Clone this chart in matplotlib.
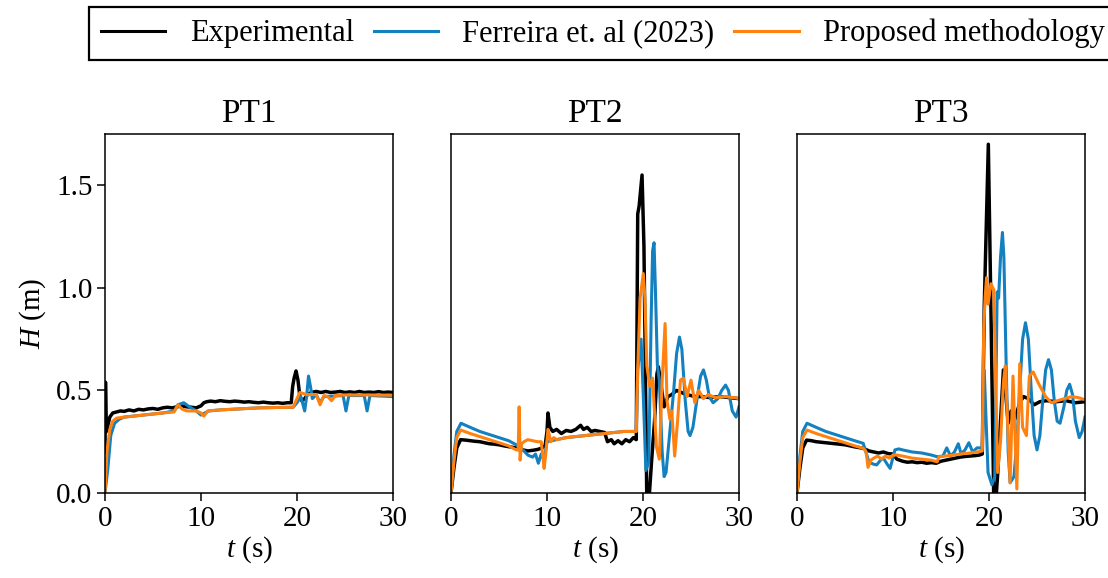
import matplotlib
matplotlib.use("Agg")
import matplotlib.pyplot as plt
from matplotlib.lines import Line2D

plt.rcParams['font.family'] = ['Liberation Serif', 'DejaVu Serif']
plt.rcParams['mathtext.fontset'] = 'custom'
plt.rcParams['mathtext.rm'] = 'Liberation Serif'
plt.rcParams['mathtext.it'] = 'Liberation Serif:italic'

# ---------------- data ----------------
titles = ["PT1", "PT2", "PT3"]
series_names = ["Experimental", "Ferreira et. al (2023)", "Proposed methodology"]
colors = ["#000000", "#1380c0", "#ff8210"]
x_ticks = [0, 10, 20, 30]
y_ticks = [0.0, 0.5, 1.0, 1.5]

# PT1
pt1_exp_t = [0, 0.05, 0.15, 0.3, 0.5, 0.8, 1.2, 1.6, 2.0, 2.5, 3, 3.5, 4, 4.5, 5, 5.5, 6, 6.5, 7, 7.5,
             8, 8.5, 9, 9.5, 10, 10.3, 10.6, 11, 11.5, 12, 12.5, 13, 13.5, 14, 14.5, 15, 15.5, 16, 16.5,
             17, 17.5, 18, 18.5, 19, 19.4, 19.55, 19.7, 19.9, 20.1, 20.3, 20.5, 20.8, 21.1, 21.5, 22,
             22.5, 23, 23.5, 24, 24.5, 25, 25.5, 26, 26.5, 27, 27.5, 28, 28.5, 29, 29.5, 30]
pt1_exp_h = [0.2, 0.54, 0.30, 0.33, 0.37, 0.39, 0.395, 0.40, 0.398, 0.405, 0.40, 0.408, 0.405, 0.41,
             0.412, 0.408, 0.415, 0.418, 0.415, 0.42, 0.425, 0.42, 0.418, 0.415, 0.425, 0.44, 0.445,
             0.448, 0.445, 0.45, 0.447, 0.445, 0.448, 0.446, 0.443, 0.445, 0.442, 0.44, 0.443, 0.44,
             0.438, 0.44, 0.437, 0.44, 0.44, 0.52, 0.56, 0.595, 0.55, 0.47, 0.45, 0.46, 0.48, 0.49,
             0.495, 0.49, 0.495, 0.49, 0.492, 0.495, 0.49, 0.493, 0.49, 0.495, 0.49, 0.492, 0.49,
             0.494, 0.49, 0.492, 0.49]
pt1_fer_t = [0, 0.3, 0.6, 1.0, 1.5, 2, 4, 6, 7.2, 7.6, 8.2, 8.8, 9.5, 10.0, 10.4, 10.8, 12, 14, 16, 18,
             19.6, 20.0, 20.4, 20.8, 21.0, 21.2, 21.4, 21.6, 22.0, 22.4, 22.8, 24.8, 25.1, 25.4, 27.0,
             27.3, 27.6, 30]
pt1_fer_h = [0.0, 0.12, 0.28, 0.34, 0.36, 0.37, 0.38, 0.39, 0.40, 0.43, 0.44, 0.42, 0.40, 0.38, 0.39,
             0.40, 0.405, 0.41, 0.415, 0.417, 0.418, 0.44, 0.47, 0.40, 0.47, 0.57, 0.52, 0.46, 0.48,
             0.44, 0.47, 0.475, 0.40, 0.475, 0.475, 0.40, 0.475, 0.47]
pt1_pro_t = [0, 0.2, 0.5, 0.8, 1.2, 2, 4, 6, 7.2, 7.6, 8.0, 8.5, 9.5, 10.0, 10.3, 10.7, 12, 14, 16, 18,
             19.6, 19.9, 20.3, 21, 22.0, 22.4, 22.8, 23.2, 23.6, 24.0, 25, 27, 30]
pt1_pro_h = [0.0, 0.2, 0.31, 0.35, 0.365, 0.37, 0.38, 0.39, 0.395, 0.43, 0.41, 0.40, 0.40, 0.39, 0.375,
             0.40, 0.405, 0.41, 0.415, 0.417, 0.418, 0.45, 0.49, 0.48, 0.48, 0.43, 0.475, 0.47, 0.45,
             0.475, 0.478, 0.478, 0.477]

# PT2
pt2_exp_t = [0, 0.3, 0.6, 1.0, 1.5, 2, 2.5, 3, 3.5, 4, 4.5, 5, 5.5, 6, 6.5, 7, 7.5, 8, 8.5, 9, 9.5,
             9.8, 10.0, 10.1, 10.3, 10.6, 11, 11.5, 12, 12.5, 13, 13.5, 13.8, 14.2, 14.6, 15, 15.5,
             16, 16.3, 16.7, 17, 17.4, 17.8, 18.2, 18.6, 19.0, 19.3, 19.45, 19.6, 19.9, 20.1, 20.4,
             20.6, 20.9, 21.2, 21.45, 21.6, 21.9, 22.2, 22.6, 23.0, 23.5, 24, 24.5, 25, 25.5, 26, 27,
             28, 29, 30]
pt2_exp_h = [0, 0.12, 0.22, 0.26, 0.258, 0.255, 0.252, 0.25, 0.245, 0.24, 0.238, 0.235, 0.23, 0.226,
             0.222, 0.218, 0.21, 0.205, 0.208, 0.212, 0.22, 0.23, 0.30, 0.39, 0.32, 0.30, 0.31, 0.29,
             0.305, 0.30, 0.31, 0.33, 0.31, 0.32, 0.30, 0.305, 0.30, 0.295, 0.25, 0.26, 0.24, 0.255,
             0.24, 0.26, 0.25, 0.27, 0.26, 1.36, 1.40, 1.55, 1.2, -0.05, -0.05, 0.16, 0.35, 0.58,
             0.615, 0.52, 0.42, 0.47, 0.48, 0.50, 0.49, 0.48, 0.475, 0.47, 0.47, 0.465, 0.47, 0.465,
             0.46]
pt2_fer_t = [0, 0.3, 0.6, 1.04, 2, 3, 4, 5, 6, 7.0, 7.5, 8.0, 8.5, 8.8, 9.1, 9.4, 9.7, 10.0, 11, 12,
             13, 14, 15, 16, 17, 18, 19.3, 19.45, 19.8, 20.05, 20.3, 20.6, 20.85, 21.0, 21.15, 21.3,
             21.5, 21.7, 22.0, 22.2, 22.4, 22.8, 23.2, 23.5, 23.8, 24.05, 24.4, 24.7, 24.9, 25.2,
             25.6, 26.0, 26.3, 26.6, 26.9, 27.3, 27.8, 28.2, 28.6, 28.9, 29.3, 29.7, 30]
pt2_fer_h = [0, 0.18, 0.30, 0.34, 0.32, 0.30, 0.285, 0.27, 0.255, 0.23, 0.21, 0.185, 0.175, 0.19,
             0.145, 0.19, 0.16, 0.25, 0.26, 0.27, 0.275, 0.28, 0.285, 0.29, 0.295, 0.30, 0.30, 0.60,
             0.75, 0.45, 0.11, 0.15, 0.85, 1.18, 1.22, 0.98, 0.62, 0.55, 0.2, 0.08, 0.1, 0.3, 0.5,
             0.68, 0.76, 0.7, 0.45, 0.3, 0.28, 0.32, 0.45, 0.57, 0.60, 0.55, 0.47, 0.44, 0.46, 0.5,
             0.526, 0.5, 0.4, 0.37, 0.42]
pt2_pro_t = [0, 0.3, 0.6, 1.0, 2, 3, 4, 5, 6, 6.8, 7.0, 7.1, 7.2, 7.35, 7.6, 8, 8.5, 9, 9.4, 9.7,
             9.85, 10.1, 10.4, 10.7, 11, 11.5, 12, 13, 14, 15, 16, 17, 18, 19.3, 19.45, 19.7, 20.03,
             20.2, 20.4, 20.7, 21.0, 21.4, 21.7, 22.0, 22.3, 22.5, 22.8, 23.0, 23.3, 23.6, 23.9,
             24.2, 24.6, 25.0, 25.4, 25.8, 26.3, 26.8, 27.5, 28.5, 29.5, 30]
pt2_pro_h = [0, 0.15, 0.27, 0.307, 0.29, 0.275, 0.26, 0.245, 0.23, 0.21, 0.21, 0.42, 0.16, 0.24,
             0.25, 0.26, 0.255, 0.25, 0.25, 0.12, 0.18, 0.31, 0.25, 0.27, 0.26, 0.265, 0.27, 0.275,
             0.28, 0.285, 0.29, 0.295, 0.30, 0.30, 0.6, 0.95, 1.07, 0.95, 0.62, 0.52, 0.56, 0.225,
             0.165, 0.55, 0.826, 0.45, 0.36, 0.40, 0.18, 0.35, 0.55, 0.56, 0.47, 0.55, 0.44, 0.50,
             0.46, 0.48, 0.465, 0.47, 0.465, 0.46]

# PT3
pt3_exp_t = [0, 0.3, 0.6, 1.0, 1.5, 2, 3, 4, 5, 6, 6.9, 7.5, 8, 8.5, 9, 9.5, 10, 10.4, 11, 11.5, 12,
             12.5, 13, 13.5, 14, 14.5, 15, 15.5, 16, 16.5, 17, 17.5, 18, 18.5, 19.0, 19.3, 19.5,
             19.93, 20.2, 20.5, 20.7, 20.9, 21.2, 21.5, 21.8, 22.0, 22.3, 22.7, 23.2, 23.6, 24.1,
             24.7, 25.3, 26, 27, 28, 29, 30]
pt3_exp_h = [0, 0.12, 0.22, 0.258, 0.255, 0.25, 0.245, 0.24, 0.235, 0.225, 0.218, 0.205, 0.20,
             0.195, 0.20, 0.192, 0.19, 0.165, 0.155, 0.15, 0.152, 0.148, 0.15, 0.145, 0.148, 0.145,
             0.155, 0.16, 0.165, 0.17, 0.175, 0.178, 0.18, 0.182, 0.185, 0.19, 0.9, 1.70, 0.9, -0.05,
             -0.05, 0.09, 0.35, 0.60, 0.45, 0.34, 0.40, 0.36, 0.44, 0.47, 0.46, 0.43, 0.445, 0.45,
             0.445, 0.45, 0.44, 0.445]
pt3_fer_t = [0, 0.3, 0.6, 1.04, 2, 3, 4, 5, 6, 6.9, 7.5, 8.0, 8.3, 8.7, 9.0, 9.4, 9.7, 10.2, 10.6,
             11, 12, 13, 14, 14.6, 15.2, 15.6, 16.0, 16.4, 16.8, 17.1, 17.5, 17.9, 18.3, 18.75,
             19.3, 19.5, 19.9, 20.3, 20.6, 20.85, 21.0, 21.2, 21.4, 21.55, 21.8, 22.0, 22.2, 22.6,
             22.9, 23.2, 23.5, 23.8, 24.1, 24.4, 24.7, 25.0, 25.3, 25.6, 25.9, 26.2, 26.5, 26.8,
             27.1, 27.4, 27.8, 28.1, 28.4, 28.7, 29.0, 29.4, 29.7, 30]
pt3_fer_h = [0, 0.18, 0.30, 0.34, 0.32, 0.30, 0.285, 0.27, 0.255, 0.242, 0.15, 0.14, 0.137, 0.16,
             0.17, 0.14, 0.12, 0.21, 0.215, 0.21, 0.20, 0.195, 0.185, 0.177, 0.18, 0.22, 0.18, 0.20,
             0.24, 0.19, 0.21, 0.245, 0.20, 0.22, 0.22, 0.6, 0.1, 0.04, 0.08, 0.98, 0.95, 1.15,
             1.27, 1.15, 0.6, 0.2, 0.05, 0.08, 0.25, 0.5, 0.75, 0.83, 0.75, 0.5, 0.28, 0.21, 0.28,
             0.45, 0.6, 0.65, 0.6, 0.45, 0.35, 0.34, 0.42, 0.5, 0.53, 0.48, 0.35, 0.27, 0.3, 0.37]
pt3_pro_t = [0, 0.3, 0.6, 1.04, 2, 3, 4, 5, 6, 6.9, 7.2, 7.4, 7.7, 8.0, 8.4, 8.8, 9.2, 9.6, 10.0,
             10.4, 11, 12, 13, 14, 14.6, 14.8, 16, 17, 18, 18.75, 19.3, 19.45, 19.6, 19.75, 19.9,
             20.2, 20.5, 20.9, 21.2, 21.5, 21.7, 22.2, 22.5, 22.9, 23.2, 23.5, 23.9, 24.2, 24.6,
             25.2, 25.9, 26.5, 27.5, 28.6, 29.3, 30]
pt3_pro_h = [0, 0.15, 0.27, 0.307, 0.29, 0.275, 0.26, 0.245, 0.23, 0.218, 0.20, 0.125, 0.16, 0.17,
             0.18, 0.165, 0.18, 0.17, 0.185, 0.185, 0.18, 0.17, 0.165, 0.16, 0.152, 0.177, 0.183,
             0.19, 0.195, 0.20, 0.205, 0.80, 0.956, 1.05, 0.92, 1.02, 0.99, 0.10, 0.25, 0.54, 0.62,
             0.05, 0.57, 0.02, 0.63, 0.32, 0.28, 0.57, 0.59, 0.53, 0.47, 0.44, 0.455, 0.47, 0.465,
             0.455]

panels = [
    [(pt1_exp_t, pt1_exp_h), (pt1_fer_t, pt1_fer_h), (pt1_pro_t, pt1_pro_h)],
    [(pt2_exp_t, pt2_exp_h), (pt2_fer_t, pt2_fer_h), (pt2_pro_t, pt2_pro_h)],
    [(pt3_exp_t, pt3_exp_h), (pt3_fer_t, pt3_fer_h), (pt3_pro_t, pt3_pro_h)],
]
line_widths = [2.5, 2.2, 2.2]

# ---------------- figure ----------------
W, H = 1108, 578
fig = plt.figure(figsize=(W / 100, H / 100), dpi=100)

lefts = [105, 451, 797]
ax_w, top_px, bot_px = 288, 134, 493
for i, lp in enumerate(lefts):
    ax = fig.add_axes([lp / W, 1 - bot_px / H, ax_w / W, (bot_px - top_px) / H])
    for (t, h), c, lw in zip(panels[i], colors, line_widths):
        ax.plot(t, h, color=c, lw=lw, solid_joinstyle='round')
    ax.set_xlim(0, 30)
    ax.set_ylim(0, 1.75)
    ax.set_xticks(x_ticks)
    ax.set_yticks(y_ticks)
    ax.set_title(titles[i], fontsize=24, pad=9)
    ax.set_xlabel(r'$t$ (s)', fontsize=21, labelpad=2)
    ax.tick_params(labelsize=21, length=6, width=1.1, direction='out', pad=3)
    for s in ax.spines.values():
        s.set_linewidth(1.1)
    if i == 0:
        ax.set_yticklabels([f"{v:.1f}" for v in y_ticks])
        ax.set_ylabel(r'$H$ (m)', fontsize=21, labelpad=6)
    else:
        ax.tick_params(left=False, labelleft=False)

handles = [Line2D([], [], color=c, lw=2.2) for c in colors]
leg = fig.legend(handles, series_names, loc='upper left',
                 bbox_to_anchor=(89 / W, 1 - 6.5 / H), ncol=3, fontsize=22,
                 frameon=True, fancybox=False, edgecolor='black', framealpha=1,
                 handlelength=2.1, handletextpad=0.8, columnspacing=0.65,
                 borderpad=0.4, borderaxespad=0)
leg.get_frame().set_linewidth(1.6)

fig.savefig("out.png", dpi=100)
